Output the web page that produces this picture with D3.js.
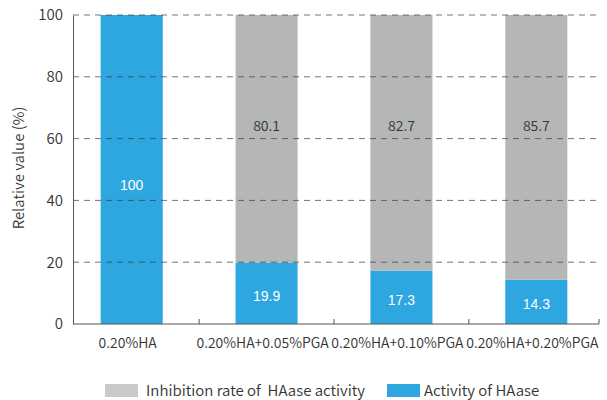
<!DOCTYPE html>
<html>
<head>
<meta charset="utf-8">
<script src="https://cdn.jsdelivr.net/npm/d3@7"></script>
<style>
  body { margin: 0; background: #fff; }
  text { font-family: "Noto Sans CJK SC", "Noto Sans", sans-serif; font-weight: 350; fill: #333; white-space: pre; }
</style>
</head>
<body>
<svg id="chart"></svg>
<script>
const categories = ['0.20%HA', '0.20%HA+0.05%PGA', '0.20%HA+0.10%PGA', '0.20%HA+0.20%PGA'];
const activity = [100, 19.9, 17.3, 14.3];
const inhibition = [0, 80.1, 82.7, 85.7];
const yTicks = [0, 20, 40, 60, 80, 100];
const seriesNames = ['Inhibition rate of  HAase activity', 'Activity of HAase'];

(() => {
  const svgWidth = 607;
  const svgHeight = 400;
  const blue = '#2ea6e0';
  const grey = '#b5b6b6';

  const svg = d3.select('#chart')
    .attr('width', svgWidth)
    .attr('height', svgHeight);

  const table = categories.map((c, i) => ({ name: c, activity: activity[i], inhibition: inhibition[i] }));
  const stacked = d3.stack().keys(['activity', 'inhibition'])(table);

  const xScale = d3.scaleBand()
    .domain(categories)
    .range([71, 597])
    .paddingInner(0.54)
    .paddingOuter(0.22);

  const yScale = d3.scaleLinear()
    .domain([0, 100])
    .range([324, 15]);

  // bars
  const colors = { activity: blue, inhibition: grey };
  svg.append('g')
    .selectAll('g')
    .data(stacked)
    .enter()
    .append('g')
    .attr('fill', d => colors[d.key])
    .selectAll('rect')
    .data(d => d.filter(p => p[1] > p[0]))
    .enter()
    .append('rect')
    .attr('x', d => xScale(d.data.name))
    .attr('width', xScale.bandwidth())
    .attr('y', d => yScale(d[1]))
    .attr('height', d => yScale(d[0]) - yScale(d[1]));

  // dashed grid on top of bars
  svg.append('g')
    .selectAll('line')
    .data(yTicks.filter(t => t > 0))
    .enter()
    .append('line')
    .attr('x1', 73)
    .attr('x2', 600)
    .attr('y1', d => yScale(d))
    .attr('y2', d => yScale(d))
    .attr('stroke', '#3a3a3a')
    .attr('stroke-opacity', 0.7)
    .attr('stroke-width', 1)
    .attr('stroke-dasharray', '6,5');

  // y axis
  const yAxis = svg.append('g')
    .attr('transform', 'translate(73,0)')
    .call(d3.axisLeft(yScale).tickValues(yTicks).tickSize(0).tickPadding(10));
  yAxis.select('.domain').attr('stroke', '#555');
  yAxis.selectAll('text')
    .style('font-size', '15px')
    .style('font-family', '"Noto Sans CJK SC", sans-serif')
    .attr('fill', '#333');

  // x axis
  const xAxis = svg.append('g')
    .attr('transform', 'translate(0,324)');
  xAxis.append('line')
    .attr('x1', 73).attr('x2', 599)
    .attr('stroke', '#555');
  const step = xScale.step();
  const tickXs = categories.map(c => xScale(c) + xScale.bandwidth() + step * xScale.paddingInner() / 2);
  tickXs[tickXs.length - 1] = 599;
  xAxis.selectAll('line.tick')
    .data(tickXs)
    .enter()
    .append('line')
    .attr('class', 'tick')
    .attr('x1', d => d).attr('x2', d => d)
    .attr('y1', 0).attr('y2', -5)
    .attr('stroke', '#555');
  xAxis.selectAll('text')
    .data(categories)
    .enter()
    .append('text')
    .attr('x', d => xScale(d) + xScale.bandwidth() / 2 - 4)
    .attr('y', 24)
    .attr('text-anchor', 'middle')
    .style('font-size', '14px')
    .text(d => d);

  // y title
  svg.append('text')
    .attr('transform', 'translate(24,168) rotate(-90)')
    .attr('text-anchor', 'middle')
    .style('font-size', '15px')
    .text('Relative value (%)');

  // value labels
  svg.append('g')
    .selectAll('text')
    .data(table)
    .enter()
    .append('text')
    .attr('x', d => xScale(d.name) + xScale.bandwidth() / 2)
    .attr('y', d => yScale(d.activity * 0.45))
    .attr('dy', '0.35em')
    .attr('text-anchor', 'middle')
    .style('font-family', '"Liberation Sans", Arial, sans-serif')
    .style('font-weight', 400)
    .style('font-size', '14px')
    .style('fill', '#fff')
    .text(d => d.activity);

  svg.append('g')
    .selectAll('text')
    .data(table.filter(d => d.inhibition > 0))
    .enter()
    .append('text')
    .attr('x', d => xScale(d.name) + xScale.bandwidth() / 2)
    .attr('y', yScale(64))
    .attr('dy', '0.35em')
    .attr('text-anchor', 'middle')
    .style('font-size', '14px')
    .text(d => d.inhibition);

  // legend
  const legendX = [105, 387];
  const legendColors = ['#c9caca', blue];
  const legend = svg.append('g')
    .selectAll('g')
    .data(seriesNames)
    .enter()
    .append('g')
    .attr('transform', (d, i) => `translate(${legendX[i]},384)`);
  legend.append('rect')
    .attr('width', 33)
    .attr('height', 13)
    .attr('fill', (d, i) => legendColors[i]);
  legend.append('text')
    .attr('x', (d, i) => i === 0 ? 41 : 37)
    .attr('y', 7)
    .attr('dy', '0.35em')
    .style('font-size', '15px')
    .text(d => d);
})();
</script>
</body>
</html>
